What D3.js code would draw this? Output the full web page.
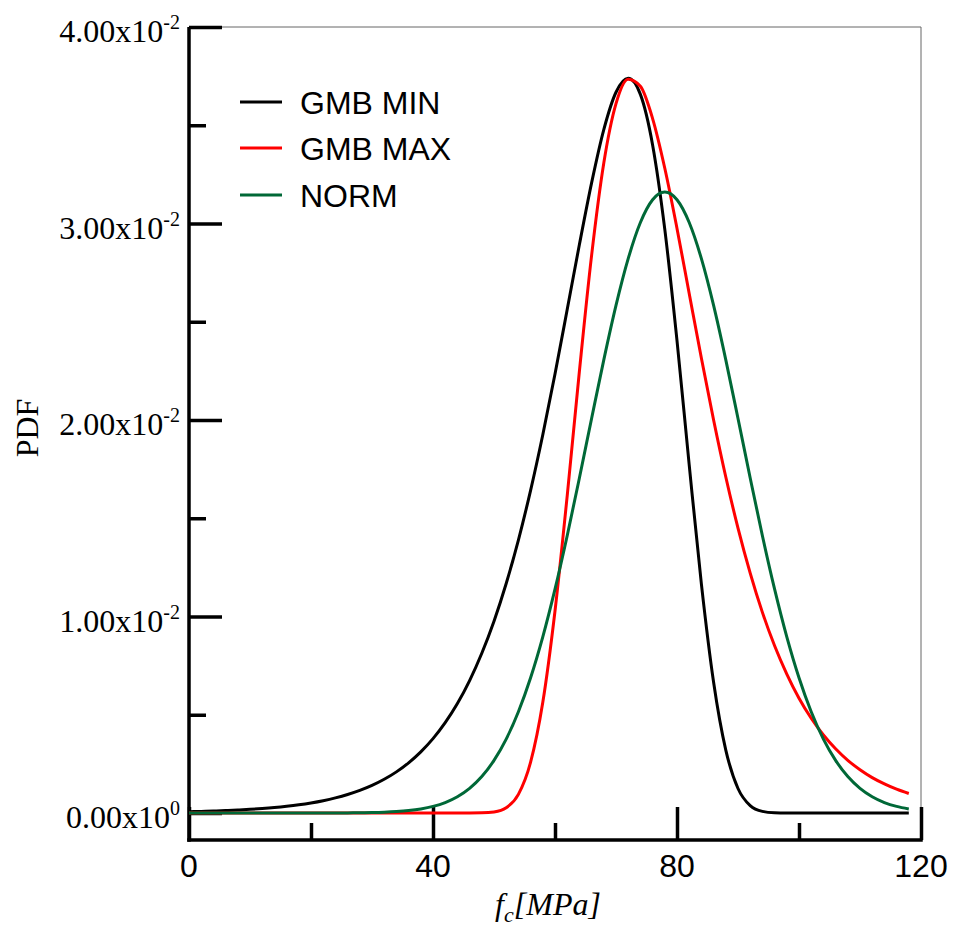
<!DOCTYPE html>
<html>
<head>
<meta charset="utf-8">
<script src="https://cdn.jsdelivr.net/npm/d3@7"></script>
<style>
  body { margin: 0; background: #fff; }
  svg { display: block; }
</style>
</head>
<body>
<script>
// f_c values (MPa), every 2 MPa
var fc = [0,2,4,6,8,10,12,14,16,18,20,22,24,26,28,30,32,34,36,38,40,42,44,46,48,50,52,54,56,58,
  60,62,64,66,68,70,72,74,76,78,80,82,84,86,88,90,92,94,96,98,100,102,104,106,108,110,112,114,116,118];

var gmbMin = [0.0000675,0.0000826,0.000101,0.000124,0.000152,0.000186,0.000228,0.000279,0.000342,0.000418,
  0.000512,0.000627,0.000768,0.000939,0.001148,0.001403,0.001715,0.002093,0.002552,0.003110,
  0.003784,0.004598,0.005570,0.006740,0.008130,0.009761,0.01168,0.01389,0.01642,0.01925,
  0.02234,0.02562,0.02893,0.03207,0.03478,0.03668,0.03739,0.03657,0.03400,0.02970,
  0.02404,0.01772,0.01165,0.006655,0.003202,0.001247,0.000375,0.0000823,0.0000123,0.0000011,
  0,0,0,0,0,0,0,0,0,0];

var gmbMax = [0,0,0,0,0,0,0,0,0,0,
  0,0,0,0,0,0,0,0,0,0,
  0,0,0,0.0000006,0.0000071,0.000053,0.000266,0.000949,0.002585,0.005631,
  0.01028,0.01614,0.02248,0.02838,0.03308,0.03610,0.03734,0.03698,0.03534,0.03281,
  0.02975,0.02644,0.02314,0.02000,0.01710,0.01450,0.01221,0.01021,0.00851,0.00707,
  0.00584,0.00482,0.00397,0.00327,0.00268,0.00220,0.00180,0.00148,0.00121,0.00099];

var norm = [0,0,0,0,0,0,0,0,0,0,
  0.0000008,0.0000015,0.0000032,0.000006,0.000012,0.000022,0.000040,0.000071,0.000122,0.000205,
  0.000335,0.000533,0.000829,0.001256,0.001856,0.002675,0.003760,0.005151,0.006883,0.008965,
  0.01139,0.01411,0.01705,0.02008,0.02306,0.02583,0.02821,0.03005,0.03121,0.03160,
  0.03121,0.03005,0.02821,0.02583,0.02306,0.02008,0.01705,0.01411,0.01139,0.008965,
  0.006883,0.005151,0.003760,0.002675,0.001856,0.001256,0.000829,0.000533,0.000335,0.000205];

var seriesNames = ['GMB MIN', 'GMB MAX', 'NORM'];
var seriesColors = ['#000000', '#ff0000', '#006837'];

var xMajor = [0, 40, 80, 120];
var xMinor = [20, 60, 100];
var yMajor = [0, 0.01, 0.02, 0.03, 0.04];
var yMinor = [0.005, 0.015, 0.025, 0.035];
var yLabels = ['0.00', '1.00', '2.00', '3.00', '4.00'];
var yExps = ['0', '-2', '-2', '-2', '-2'];

drawChart();

function drawChart() {
  var width = 955, height = 929;
  var pLeft = 189, pRight = 921, pTop = 27, pBottom = 840;

  var svg = d3.select('body').append('svg')
    .attr('width', width).attr('height', height);

  var x = d3.scaleLinear().domain([0, 120]).range([pLeft, pRight]);
  var y = d3.scaleLinear().domain([-0.001374, 0.04]).range([pBottom, pTop]);

  // thin frame (top, right)
  svg.append('line').attr('x1', pLeft).attr('x2', pRight).attr('y1', pTop).attr('y2', pTop)
    .attr('stroke', '#666').attr('stroke-width', 1);
  svg.append('line').attr('x1', pRight).attr('x2', pRight).attr('y1', pTop).attr('y2', pBottom)
    .attr('stroke', '#666').attr('stroke-width', 1);

  // x axis, ticks pointing up
  var xAxis = svg.append('g').attr('transform', 'translate(0,' + pBottom + ')')
    .call(d3.axisBottom(x).tickValues(xMajor).tickSizeInner(-33).tickSizeOuter(0).tickFormat(''));
  svg.append('g').attr('transform', 'translate(0,' + pBottom + ')')
    .call(d3.axisBottom(x).tickValues(xMinor).tickSizeInner(-17).tickSizeOuter(0).tickFormat(''))
    .select('.domain').remove();

  // y axis, ticks pointing right
  var yAxis = svg.append('g').attr('transform', 'translate(' + pLeft + ',0)')
    .call(d3.axisLeft(y).tickValues(yMajor).tickSizeInner(-33).tickSizeOuter(0).tickFormat(''));
  svg.append('g').attr('transform', 'translate(' + pLeft + ',0)')
    .call(d3.axisLeft(y).tickValues(yMinor).tickSizeInner(-17).tickSizeOuter(0).tickFormat(''))
    .select('.domain').remove();

  svg.selectAll('.domain').attr('stroke', '#000').attr('stroke-width', 3.5);
  svg.selectAll('.tick line').attr('stroke', '#000').attr('stroke-width', 3.5);

  yAxis.select('.domain').attr('d', 'M0,' + pTop + 'V' + (pBottom + 1.75));
  xAxis.select('.domain').attr('d', 'M' + (pLeft - 1.75) + ',0H' + (pRight + 1.75));

  // x tick labels
  svg.selectAll('.xlab').data(xMajor).enter().append('text')
    .attr('x', function(d) { return x(d); })
    .attr('y', 877)
    .attr('text-anchor', 'middle')
    .style('font-family', 'Liberation Sans, Arial, sans-serif')
    .style('font-size', '32px')
    .text(function(d) { return d; });

  // y tick labels with superscript exponent
  var yl = svg.selectAll('.ylab').data(yMajor).enter().append('text')
    .attr('x', 180)
    .attr('y', function(d) { return y(d) + 15; })
    .attr('text-anchor', 'end')
    .style('font-family', 'Liberation Serif, Times New Roman, serif')
    .style('font-size', '32px');
  yl.append('tspan').text(function(d, i) { return yLabels[i] + 'x10'; });
  yl.append('tspan').attr('dy', -13).style('font-size', '20px')
    .text(function(d, i) { return yExps[i]; });

  // axis titles
  svg.append('text')
    .attr('transform', 'translate(38,428) rotate(-90)')
    .attr('text-anchor', 'middle')
    .style('font-family', 'Liberation Serif, Times New Roman, serif')
    .style('font-size', '32px')
    .text('PDF');

  var xt = svg.append('text')
    .attr('x', 548).attr('y', 915)
    .attr('text-anchor', 'middle')
    .style('font-family', 'Liberation Serif, Times New Roman, serif')
    .style('font-style', 'italic')
    .style('font-size', '32px');
  xt.append('tspan').text('f');
  xt.append('tspan').attr('dy', 7).style('font-size', '22px').text('c');
  xt.append('tspan').attr('dy', -7).text('[MPa]');

  // curves
  var seriesData = [gmbMin, gmbMax, norm];
  var line = d3.line()
    .x(function(d, i) { return x(fc[i]); })
    .y(function(d) { return y(d); })
    .curve(d3.curveMonotoneX);

  svg.selectAll('.curve').data(seriesData).enter().append('path')
    .attr('class', 'curve')
    .attr('d', line)
    .attr('fill', 'none')
    .attr('stroke', function(d, i) { return seriesColors[i]; })
    .attr('stroke-width', 3);

  // legend
  var legendY = [102, 148, 195];
  var lg = svg.selectAll('.legend').data(seriesNames).enter().append('g');
  lg.append('line')
    .attr('x1', 240).attr('x2', 282)
    .attr('y1', function(d, i) { return legendY[i]; })
    .attr('y2', function(d, i) { return legendY[i]; })
    .attr('stroke', function(d, i) { return seriesColors[i]; })
    .attr('stroke-width', 3);
  lg.append('text')
    .attr('x', 300)
    .attr('y', function(d, i) { return legendY[i] + 11.5; })
    .style('font-family', 'Liberation Sans, Arial, sans-serif')
    .style('font-size', '32px')
    .text(function(d) { return d; });
}
</script>
</body>
</html>
